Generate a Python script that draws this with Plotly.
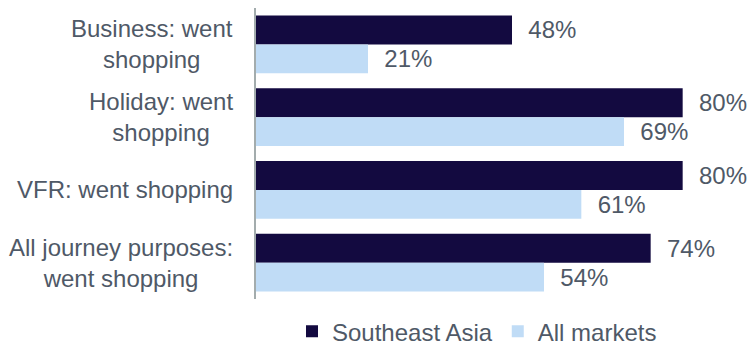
import plotly.graph_objects as go

categories = [
    "Business: went<br>shopping",
    "Holiday: went<br>shopping",
    "VFR: went shopping",
    "All journey purposes:<br>went shopping",
]
series_names = ["Southeast Asia", "All markets"]
southeast_asia = [48, 80, 80, 74]
all_markets = [21, 69, 61, 54]

DARK = "#130a40"
LIGHT = "#c0dcf6"
TEXT = "#4f5967"
FONT = "Liberation Sans, Arial, sans-serif"
FS = 24

fig = go.Figure()
for name, vals, col in [
    (series_names[0], southeast_asia, DARK),
    (series_names[1], all_markets, LIGHT),
]:
    fig.add_trace(go.Bar(
        name=name,
        y=categories,
        x=vals,
        orientation="h",
        marker=dict(color=col, line=dict(width=0)),
        texttemplate="\u00a0\u00a0%{x}%",
        textposition="outside",
        textfont=dict(family=FONT, size=FS, color=TEXT),
        cliponaxis=False,
        constraintext="none",
    ))

# category labels drawn as centred multi-line annotations left of the axis
for cat in categories:
    fig.add_annotation(
        x=0, xref="paper", xshift=-21,
        y=cat, yref="y",
        text=cat, showarrow=False,
        xanchor="right", yanchor="middle", align="center",
        font=dict(family=FONT, size=FS, color=TEXT),
    )

fig.update_layout(
    width=753, height=347,
    margin=dict(l=256, r=17, t=8, b=48, autoexpand=False),
    paper_bgcolor="white", plot_bgcolor="white",
    barmode="group", bargap=0.205, bargroupgap=0,
    font=dict(family=FONT, size=FS, color=TEXT),
    showlegend=True,
    legend=dict(
        orientation="h", x=0.075, xanchor="left", y=-0.035, yanchor="top",
        font=dict(family=FONT, size=FS, color=TEXT),
        traceorder="normal", itemwidth=30,
    ),
    xaxis=dict(range=[0, 90], visible=False, showgrid=False, zeroline=False),
    yaxis=dict(
        autorange="reversed", showticklabels=False, showgrid=False,
        zeroline=False, showline=True, linecolor="#a3acad", linewidth=2,
        ticks="",
    ),
)

fig.write_html("out.html")
